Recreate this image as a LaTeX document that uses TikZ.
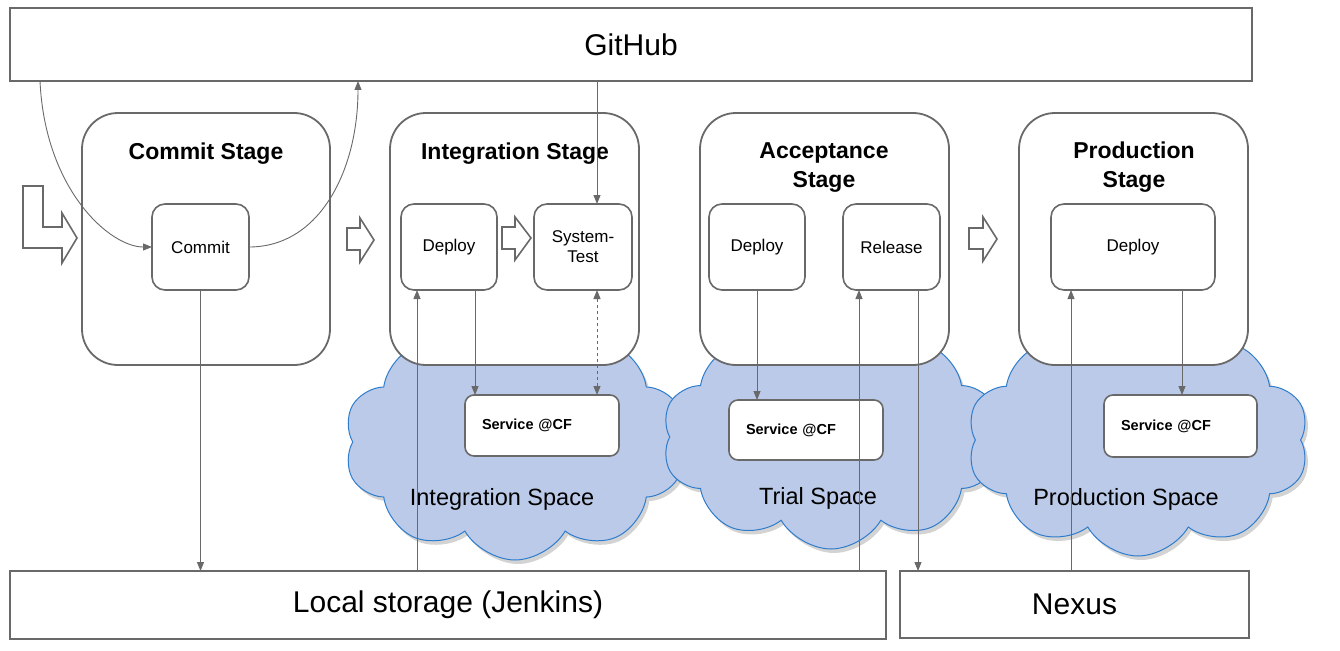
\documentclass[tikz,border=0pt]{standalone}
\usepackage{fontspec}
\setmainfont{Liberation Sans}
\usepackage{xcolor}
\usetikzlibrary{shapes.symbols,shadows,arrows.meta}

\definecolor{linegray}{RGB}{105,105,105}
\definecolor{cloudfill}{RGB}{187,202,232}
\definecolor{cloudedge}{RGB}{46,125,205}

\tikzset{
  bigbox/.style={draw=linegray, line width=1.8pt, fill=white, outer sep=0pt,
    font=\fontsize{30}{35}\selectfont},
  stagebox/.style={draw=linegray, line width=1.8pt, fill=white, rounded corners=36pt,
    minimum width=#1, minimum height=252pt, outer sep=0pt},
  stagetitle/.style={font=\fontsize{23}{29}\selectfont\bfseries, align=center},
  taskbox/.style={draw=linegray, line width=1.6pt, fill=white, rounded corners=13pt,
    minimum width=#1, minimum height=86pt, outer sep=0pt, align=center,
    font=\fontsize{17}{20}\selectfont},
  servicebox/.style={draw=linegray, line width=1.6pt, fill=white, rounded corners=9pt,
    text width=120pt, inner xsep=17pt, minimum height=61pt, outer sep=0pt, align=left,
    font=\fontsize{14.5}{17}\selectfont\bfseries},
  space/.style={cloud, cloud puffs=10, cloud puff arc=120, draw=cloudedge, line width=1pt,
    fill=cloudfill, inner sep=0pt,
    drop shadow={shadow xshift=3pt, shadow yshift=-4pt, opacity=0.35}},
  spacetext/.style={font=\fontsize{23.5}{28}\selectfont},
  conn/.style={draw=linegray, line width=0.9pt, -{Triangle[length=9pt,width=7pt]}},
  blockarrow/.style={draw=linegray, line width=1.6pt, fill=white, line join=miter}
}

\begin{document}
\begin{tikzpicture}[x=1pt, y=-1pt]
  \useasboundingbox (0,0) rectangle (1340,650);

  \node[space, minimum width=342pt, minimum height=236pt] (intCloud)   at (515,442) {};
  \node[space, minimum width=338pt, minimum height=224pt] (trialCloud) at (831,437) {};
  \node[space, minimum width=342pt, minimum height=232pt] (prodCloud)  at (1138,440) {};

  \node[spacetext] (intSpace)   at (502,499)  {Integration Space};
  \node[spacetext] (trialSpace) at (818,498)  {Trial Space};
  \node[spacetext] (prodSpace)  at (1126,499) {Production Space};

  \node[bigbox, minimum width=1242pt, minimum height=73pt] (github)  at (631,44.5)   {GitHub};
  \node[bigbox, minimum width=876pt,  minimum height=68pt] (storage) at (448,605)    {Local storage (Jenkins)};
  \node[bigbox, minimum width=349pt,  minimum height=67pt] (nexus)   at (1074.5,604.5) {Nexus};

  \node[stagebox=248pt] (commitStage) at (206,239)    {};
  \node[stagebox=249pt] (intStage)    at (514.5,239)  {};
  \node[stagebox=249pt] (accStage)    at (824.5,239)  {};
  \node[stagebox=229pt] (prodStage)   at (1133.5,239) {};

  \node[stagetitle] (commitTitle) at (206,154)    {Commit Stage};
  \node[stagetitle] (intTitle)    at (515,154)    {Integration Stage};
  \node[stagetitle] (accTitle)    at (824,168)    {Acceptance\\Stage};
  \node[stagetitle] (prodTitle)   at (1134,167)   {Production\\Stage};

  \node[taskbox=97pt]  (commit)     at (200.5,247) {Commit};
  \node[taskbox=96pt]  (intDeploy)  at (449,247)   {Deploy};
  \node[taskbox=98pt]  (sysTest)    at (583,247)   {System-\\Test};
  \node[taskbox=96pt]  (accDeploy)  at (757,247)   {Deploy};
  \node[taskbox=97pt]  (release)    at (891.5,247) {Release};
  \node[taskbox=164pt] (prodDeploy) at (1133,247)  {Deploy};

  \node[servicebox] (intService)   at (542,425.5)  {Service @CF};
  \node[servicebox, minimum height=60pt] (trialService) at (806,430) {Service @CF};
  \node[servicebox, text width=119pt, minimum height=62pt] (prodService) at (1180.5,426) {Service @CF};

  \draw[blockarrow] (23,186) -- (43,186) -- (43,227) -- (62,227) -- (62,213) -- (77,238)
    -- (62,263) -- (62,248) -- (23,248) -- cycle;
  \draw[blockarrow] (347,228) -- (360,228) -- (360,218) -- (374,240) -- (360,262) -- (360,250) -- (347,250) -- cycle;
  \draw[blockarrow] (502,227) -- (515,227) -- (515,217) -- (531,238) -- (515,260) -- (515,249) -- (502,249) -- cycle;
  \draw[blockarrow] (969,228) -- (983,228) -- (983,217) -- (997,239) -- (983,261) -- (983,249) -- (969,249) -- cycle;

  \draw[conn] (github.south -| 40,0) .. controls (45,190) and (110,247) .. (commit.west);
  \draw[conn] (commit.east) .. controls (320,247) and (358,170) .. (github.south -| 358,0);
  \draw[conn] (github.south -| 597,0) -- ([xshift=14pt]sysTest.north);
  \draw[conn] (commit.south) -- (storage.north -| commit.south);
  \draw[conn] (storage.north -| 417,0) -- ([xshift=-32pt]intDeploy.south);
  \draw[conn] ([xshift=26pt]intDeploy.south) -- (intService.north -| 475,0);
  \draw[conn, dashed, {Triangle[length=9pt,width=7pt]}-{Triangle[length=9pt,width=7pt]}]
    ([xshift=14pt]sysTest.south) -- (intService.north -| 597,0);
  \draw[conn] (accDeploy.south) -- (trialService.north -| accDeploy.south);
  \draw[conn] (storage.north -| 859,0) -- ([xshift=-32.5pt]release.south);
  \draw[conn] ([xshift=26.5pt]release.south) -- (nexus.north -| 918,0);
  \draw[conn] (nexus.north -| 1071,0) -- ([xshift=-62pt]prodDeploy.south);
  \draw[conn] ([xshift=49pt]prodDeploy.south) -- (prodService.north -| 1182,0);
\end{tikzpicture}
\end{document}
